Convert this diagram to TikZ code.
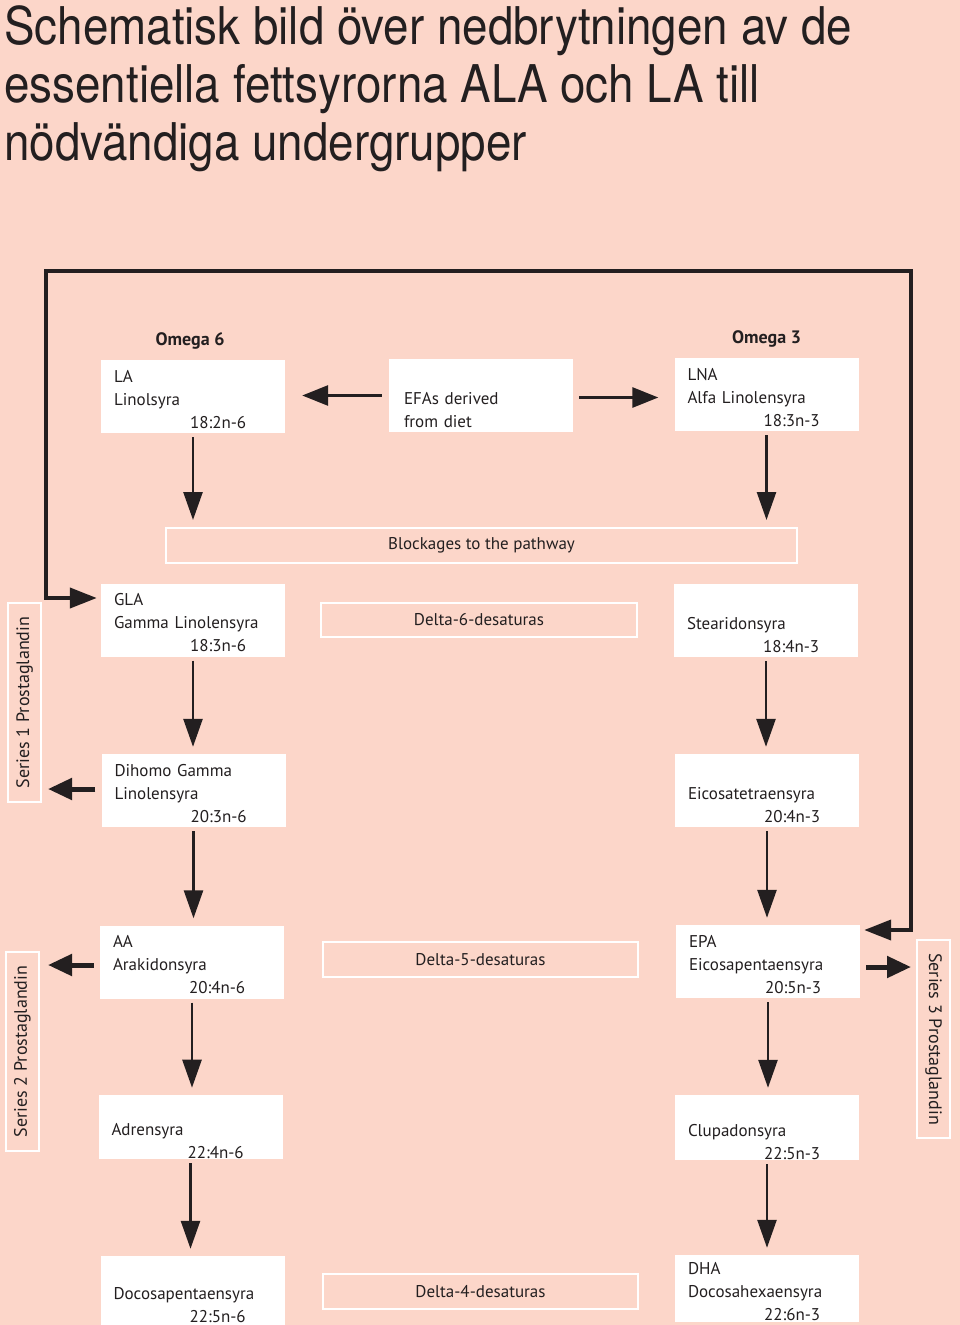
\documentclass[tikz,border=0pt]{standalone}
\usepackage{fontspec}
\setmainfont{PT Sans}
\newfontfamily\titlefont[FakeStretch=0.88]{TeX Gyre Heros}
\usetikzlibrary{arrows.meta,positioning}
\definecolor{bgpink}{RGB}{252,214,201}
\definecolor{ink}{RGB}{35,31,32}
% three text lines of an acid box, the last one indented
\newcommand{\fa}[3]{\rule{0pt}{18pt}#1\\#2\\\hspace*{76pt}#3}
\tikzset{
  acid/.style={fill=white, text=ink, text width=158pt, inner xsep=13pt, inner ysep=0pt,
    minimum height=73pt, align=left, font=\fontsize{17}{23}\selectfont},
  enzyme/.style={draw=white, line width=2pt, text=ink, minimum height=35pt, inner sep=0pt,
    font=\fontsize{17}{23}\selectfont},
  series/.style={draw=white, line width=2pt, text=ink, minimum width=199pt, minimum height=33pt,
    inner sep=0pt, font=\fontsize{18}{23}\selectfont},
  omega/.style={text=ink, inner sep=0pt, font=\bfseries\fontsize{18}{20}\selectfont},
  flow/.style={draw=ink, line width=2.6pt, -{Triangle[length=28pt,width=19pt]},
    shorten <=4pt, shorten >=7pt},
  side/.style={draw=ink, line width=5pt, -{Triangle[length=24pt,width=21pt]},
    shorten <=6pt, shorten >=6pt},
  loopline/.style={draw=ink, line width=4pt,
    {Triangle[length=27pt,width=20pt]}-{Triangle[length=27pt,width=20pt]}},
}
\begin{document}
\begin{tikzpicture}[x=1pt, y=-1pt, line join=miter]
  \useasboundingbox (0,0) rectangle (960,1325);
  \fill[bgpink] (0,0) rectangle (960,1325);

  \node[anchor=north west, inner sep=0pt, align=left, text=ink,
    font=\titlefont\fontsize{52}{58}\selectfont] (title) at (4,5)
    {Schematisk bild över nedbrytningen av de\\essentiella fettsyrorna ALA och LA till\\nödvändiga undergrupper};

  % omega 6 column
  \node[acid] (la) at (193,396.5) {\fa{LA}{Linolsyra}{18:2n-6}};
  \node[acid] (gla) at (193,620) {\fa{GLA}{Gamma Linolensyra}{18:3n-6}};
  \node[acid] (dgla) at (193.5,790.5) {\fa{Dihomo Gamma}{Linolensyra}{20:3n-6}};
  \node[acid] (aa) at (192,962) {\fa{AA}{Arakidonsyra}{20:4n-6}};
  \node[acid, minimum height=64pt] (adr) at (190.5,1127) {\fa{}{Adrensyra}{22:4n-6}};
  \node[acid, minimum height=69pt] (dpa) at (192.5,1290.5) {\fa{}{Docosapentaensyra}{22:5n-6}};
  \node[omega, above=10pt of la, xshift=-3pt] (om6) {Omega 6};

  % omega 3 column
  \node[acid] (lna) at (766.5,394.5) {\fa{LNA}{Alfa Linolensyra}{18:3n-3}};
  \node[acid] (sda) at (766,620.5) {\fa{}{Stearidonsyra}{18:4n-3}};
  \node[acid] (eta) at (767,790.5) {\fa{}{Eicosatetraensyra}{20:4n-3}};
  \node[acid] (epa) at (768,961.5) {\fa{EPA}{Eicosapentaensyra}{20:5n-3}};
  \node[acid, minimum height=65pt] (clu) at (767,1127.5) {\fa{}{Clupadonsyra}{22:5n-3}};
  \node[acid, minimum height=67pt] (dha) at (767,1288.5) {\fa{DHA}{Docosahexaensyra}{22:6n-3}};
  \node[omega, above=10pt of lna] (om3) {Omega 3};

  % middle
  \node[acid, inner xsep=15pt, text width=154pt] (efa) at (481,395.5)
    {\rule{0pt}{18pt}\\EFAs derived\\from diet};
  \node[enzyme, minimum width=631pt] (blk) at (481.5,545.5) {Blockages to the pathway};
  \node[enzyme, minimum width=316pt, minimum height=34pt] (d6) at (479,620) {Delta-6-desaturas};
  \node[enzyme, minimum width=315pt] (d5) at (480.5,959.5) {Delta-5-desaturas};
  \node[enzyme, minimum width=315pt] (d4) at (480.5,1291.5) {Delta-4-desaturas};

  % prostaglandins
  \node[series, rotate=90] (s1) at (24.5,702.5) {Series 1 Prostaglandin};
  \node[series, rotate=90] (s2) at (22.5,1051.5) {Series 2 Prostaglandin};
  \node[series, rotate=-90, minimum width=198pt] (s3) at (933.5,1039) {Series 3 Prostaglandin};

  % pathway arrows
  \draw[flow, line width=3pt, -{Triangle[length=26pt,width=20pt]}, shorten <=7pt, shorten >=17pt]
    (efa.west) -- (efa.west -| la.east);
  \draw[flow, line width=3pt, -{Triangle[length=26pt,width=20pt]}, shorten <=6pt, shorten >=16pt]
    ([yshift=-2pt]efa.east) -- ([yshift=-2pt]efa.east -| lna.west);
  \draw[flow] (la.south) -- (la.south |- blk.north);
  \draw[flow] (lna.south) -- (lna.south |- blk.north);
  \draw[flow] (gla.south) -- (gla.south |- dgla.north);
  \draw[flow] (dgla.south) -- (dgla.south |- aa.north);
  \draw[flow] (aa.south) -- (aa.south |- adr.north);
  \draw[flow] (adr.south) -- (adr.south |- dpa.north);
  \draw[flow] (sda.south) -- (sda.south |- eta.north);
  \draw[flow] (eta.south) -- (eta.south |- epa.north);
  \draw[flow] (epa.south) -- (epa.south |- clu.north);
  \draw[flow] (clu.south) -- (clu.south |- dha.north);

  % to the prostaglandins
  \draw[side] ([yshift=1.5pt]dgla.west) -- ([yshift=1.5pt]dgla.west -| s1.south);
  \draw[side, shorten >=8pt] ([yshift=-3pt]aa.west) -- ([yshift=-3pt]aa.west -| s2.south);
  \draw[side, shorten >=5pt] ([yshift=-5.5pt]epa.east) -- ([yshift=-5.5pt]epa.east -| s3.south);

  % feedback loop from EPA round to GLA
  \coordinate (ne) at (911,271);
  \coordinate (nw) at (46,271);
  \draw[loopline] ([xshift=4pt,yshift=31.5pt]epa.east) -| (ne) -- (nw)
    |- ([xshift=-4pt,yshift=22pt]gla.west);
\end{tikzpicture}
\end{document}
